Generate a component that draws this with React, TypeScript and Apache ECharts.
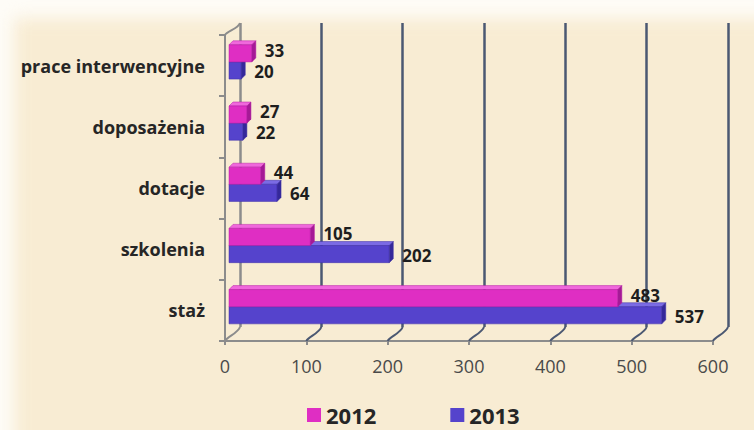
import React, { useEffect, useRef } from "react";
import * as echarts from "echarts";

const categories = ["prace interwencyjne", "doposażenia", "dotacje", "szkolenia", "staż"];
const years = ["2012", "2013"];
const values2012 = [33, 27, 44, 105, 483];
const values2013 = [20, 22, 64, 202, 537];
const xTicks = [0, 100, 200, 300, 400, 500, 600];

const FONT = '"Open Sans", "DejaVu Sans", sans-serif';

const palette2012 = { front: "#df2ec3", top: "#f068dc", side: "#a51a96", edge: "#b41fa4" };
const palette2013 = { front: "#5543cc", top: "#7b6be4", side: "#35289a", edge: "#3d2fa8" };

function makeBarRender(slot: number, colors: typeof palette2012) {
  return (params: any, api: any) => {
    const val = api.value(0);
    const cat = api.value(1);
    const start = api.coord([0, cat]);
    const end = api.coord([val, cat]);
    const b = api.size([0, 1])[1];
    const cy = start[1];
    const y0 = slot === 0 ? cy - 0.34 * b : cy - 0.06 * b;
    const y1 = slot === 0 ? cy - 0.06 * b : cy + 0.22 * b;
    const x0 = start[0] + 4;
    const x1 = end[0];
    const d = 4;
    return {
      type: "group",
      children: [
        {
          type: "polygon",
          shape: { points: [[x0, y0], [x0 + d, y0 - d], [x1 + d, y0 - d], [x1, y0]] },
          style: { fill: colors.top, stroke: colors.edge, lineWidth: 0.5 },
        },
        {
          type: "rect",
          shape: { x: x0, y: y0, width: x1 - x0, height: y1 - y0 },
          style: { fill: colors.front, stroke: colors.edge, lineWidth: 0.5 },
        },
        {
          type: "polygon",
          shape: { points: [[x1, y0], [x1 + d, y0 - d], [x1 + d, y1 - d], [x1, y1]] },
          style: { fill: colors.side, stroke: colors.edge, lineWidth: 0.5 },
        },
        {
          type: "text",
          style: {
            text: String(val),
            x: x1 + d + 9,
            y: (y0 + y1) / 2 + (slot === 0 ? -3 : 1),
            align: "left",
            verticalAlign: "middle",
            fontSize: 17,
            lineHeight: 16,
            fontWeight: "bold",
            fontFamily: FONT,
            fill: "#1e1e1e",
          },
        },
      ],
    };
  };
}

function connectorRender(params: any, api: any) {
  const v = api.value(0);
  const p = api.coord([v, 0]);
  const cs = params.coordSys;
  const bottom = cs.y + cs.height;
  const color = v === 0 ? "#8c8c8c" : "#4b5872";
  const children: any[] = [
    {
      type: "bezierCurve",
      shape: {
        x1: p[0], y1: bottom,
        cpx1: p[0] + 2, cpy1: bottom - 4,
        cpx2: p[0] + 13, cpy2: bottom - 8,
        x2: p[0] + 15, y2: bottom - 14,
      },
      style: { stroke: color, lineWidth: 2, fill: "none" },
    },
  ];
  if (v === 0) {
    children.push({
      type: "bezierCurve",
      shape: {
        x1: cs.x, y1: cs.y,
        cpx1: cs.x + 2, cpy1: cs.y - 4,
        cpx2: cs.x + 13, cpy2: cs.y - 6,
        x2: cs.x + 15, y2: cs.y - 12,
      },
      style: { stroke: color, lineWidth: 2, fill: "none" },
    });
  }
  return { type: "group", children };
}

export default function App() {
  const ref = useRef<HTMLDivElement>(null);

  useEffect(() => {
    document.body.style.margin = "0";
    if (!ref.current) return;
    const chart = echarts.init(ref.current, null, { renderer: "svg" });
    chart.setOption({
      animation: false,
      backgroundColor: "transparent",
      legend: {
        data: years,
        left: 302,
        top: 399,
        icon: "rect",
        itemWidth: 14,
        itemHeight: 14,
        itemGap: 74,
        textStyle: { fontSize: 22, fontWeight: "bold", color: "#262626", fontFamily: FONT, lineHeight: 22 },
      },
      grid: [
        { left: 225, top: 35, width: 488, height: 306 },
        { left: 240, top: 23, width: 488, height: 304 },
      ],
      xAxis: [
        {
          type: "value",
          gridIndex: 0,
          min: 0,
          max: 600,
          interval: 100,
          axisLine: { show: true, lineStyle: { color: "#8c8c8c", width: 2 } },
          axisTick: { show: true, length: 4, lineStyle: { color: "#8c8c8c", width: 2 } },
          axisLabel: {
            show: true,
            fontSize: 18,
            color: "#4a4a4a",
            fontFamily: FONT,
            margin: 16,
            formatter: (v: number) => String(v),
          },
          splitLine: { show: false },
        },
        {
          type: "value",
          gridIndex: 1,
          min: 0,
          max: 600,
          interval: 100,
          axisLine: { show: false },
          axisTick: { show: false },
          axisLabel: { show: false },
          splitLine: {
            show: true,
            lineStyle: {
              color: ["#8c8c8c", "#4b5872", "#4b5872", "#4b5872", "#4b5872", "#4b5872", "#4b5872"],
              width: 2.5,
            },
          },
        },
      ],
      yAxis: [
        {
          type: "category",
          gridIndex: 0,
          data: categories,
          inverse: true,
          axisLine: { show: true, lineStyle: { color: "#8c8c8c", width: 2 } },
          axisTick: { show: true, length: 6, lineStyle: { color: "#8c8c8c", width: 2 } },
          axisLabel: {
            fontSize: 18,
            fontWeight: "bold",
            color: "#262626",
            fontFamily: FONT,
            margin: 20,
          },
          splitLine: { show: false },
        },
        {
          type: "category",
          gridIndex: 1,
          data: categories,
          inverse: true,
          axisLine: { show: false },
          axisTick: { show: false },
          axisLabel: { show: false },
          splitLine: { show: false },
        },
      ],
      series: [
        {
          type: "custom",
          name: "connectors",
          xAxisIndex: 0,
          yAxisIndex: 0,
          z: 1,
          silent: true,
          renderItem: connectorRender,
          encode: { x: 0, y: 1 },
          data: xTicks.map((v) => [v, 0]),
        },
        {
          type: "custom",
          name: years[1],
          xAxisIndex: 0,
          yAxisIndex: 0,
          z: 3,
          itemStyle: { color: palette2013.front },
          renderItem: makeBarRender(1, palette2013),
          encode: { x: 0, y: 1 },
          data: values2013.map((v, i) => [v, i]),
        },
        {
          type: "custom",
          name: years[0],
          xAxisIndex: 0,
          yAxisIndex: 0,
          z: 4,
          itemStyle: { color: palette2012.front },
          renderItem: makeBarRender(0, palette2012),
          encode: { x: 0, y: 1 },
          data: values2012.map((v, i) => [v, i]),
        },
      ],
    });
    return () => chart.dispose();
  }, []);

  return (
    <div style={{ position: "relative", width: 754, height: 430, overflow: "hidden", background: "#fefcf7" }}>
      <div
        style={{
          position: "absolute",
          left: 14,
          top: 18,
          right: -20,
          bottom: -20,
          background: "#f8ecd3",
          filter: "blur(8px)",
        }}
      />
      <div ref={ref} style={{ position: "absolute", left: 0, top: 0, width: 754, height: 430 }} />
    </div>
  );
}
